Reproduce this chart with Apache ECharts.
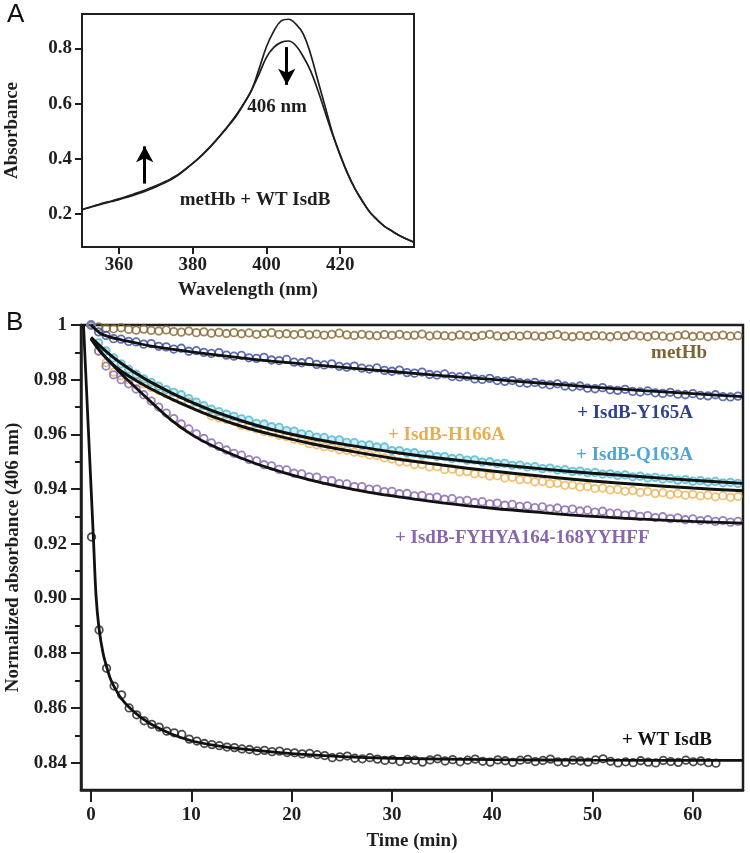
<!DOCTYPE html>
<html><head><meta charset="utf-8">
<script src="https://cdn.jsdelivr.net/npm/echarts@6/dist/echarts.min.js"></script>
<style>html,body{margin:0;padding:0;background:#fff}#c{width:750px;height:853px}</style>
</head><body><div id="c"></div><script>
// ---------- Panel A: spectra ----------
const wavelength = [350,352,354,356,358,360,362,364,366,368,370,372,374,376,378,380,382,384,386,388,390,392,394,396,398,400,402,404,406,408,410,412,414,416,418,420,422,424,426,428,430,432,434,436,438,440];
const specMetHb = [.215,.223,.231,.238,.245,.252,.260,.268,.277,.287,.298,.310,.324,.340,.361,.383,.407,.433,.462,.493,.526,.562,.603,.650,.726,.806,.863,.900,.906,.888,.852,.778,.681,.585,.489,.414,.347,.292,.247,.207,.179,.155,.138,.122,.109,.097];
const specWithIsdB = [.216,.224,.232,.240,.247,.255,.263,.272,.281,.291,.302,.314,.327,.342,.362,.383,.406,.432,.461,.492,.524,.559,.602,.650,.707,.768,.804,.822,.827,.810,.770,.718,.646,.565,.485,.412,.346,.291,.246,.207,.179,.155,.138,.122,.109,.097];
const specXTicks = [360,380,400,420];
const specYTicks = [0.2,0.4,0.6,0.8];
const arrowUp = [[367,0.31],[367,0.445]];
const arrowDown = [[405.5,0.805],[405.5,0.668]];

// ---------- Panel B: kinetics ----------
const timeData = [0,0.75,1.5,2.25,3,3.75,4.5,5.25,6,6.75,
7.5,8.25,9,9.75,10.5,11.25,12,12.75,13.5,14.25,
15,15.75,16.5,17.25,18,18.75,19.5,20.25,21,21.75,
22.5,23.25,24,24.75,25.5,26.25,27,27.75,28.5,29.25,
30,30.75,31.5,32.25,33,33.75,34.5,35.25,36,36.75,
37.5,38.25,39,39.75,40.5,41.25,42,42.75,43.5,44.25,
45,45.75,46.5,47.25,48,48.75,49.5,50.25,51,51.75,
52.5,53.25,54,54.75,55.5,56.25,57,57.75,58.5,59.25,
60,60.75,61.5,62.25,63,63.75,64.5];
const timeWT = [0.05,0.8,1.55,2.3,3.05,3.8,4.55,5.3,6.05,6.8,
7.55,8.3,9.05,9.8,10.55,11.3,12.05,12.8,13.55,14.3,
15.05,15.8,16.55,17.3,18.05,18.8,19.55,20.3,21.05,21.8,
22.55,23.3,24.05,24.8,25.55,26.3,27.05,27.8,28.55,29.3,
30.05,30.8,31.55,32.3,33.05,33.8,34.55,35.3,36.05,36.8,
37.55,38.3,39.05,39.8,40.55,41.3,42.05,42.8,43.55,44.3,
45.05,45.8,46.55,47.3,48.05,48.8,49.55,50.3,51.05,51.8,
52.55,53.3,54.05,54.8,55.55,56.3,57.05,57.8,58.55,59.3,
60.05,60.8,61.55,62.3];
const metHb = [1.0000,.9993,.9988,.9986,.9990,.9984,.9981,.9985,.9980,.9978,
.9982,.9976,.9974,.9978,.9972,.9975,.9970,.9973,.9969,.9972,
.9968,.9971,.9966,.9969,.9972,.9966,.9968,.9965,.9969,.9964,
.9967,.9963,.9966,.9970,.9964,.9962,.9966,.9963,.9961,.9965,
.9962,.9966,.9961,.9963,.9967,.9960,.9963,.9961,.9959,.9964,
.9961,.9958,.9962,.9966,.9960,.9958,.9962,.9959,.9963,.9960,
.9958,.9962,.9965,.9959,.9957,.9961,.9958,.9962,.9960,.9957,
.9961,.9958,.9963,.9960,.9957,.9962,.9959,.9956,.9961,.9964,
.9958,.9961,.9957,.9960,.9963,.9959,.9961];
const y165a = [1.0000,.9975,.9962,.9950,.9948,.9940,.9938,.9930,.9932,.9922,
.9920,.9912,.9915,.9904,.9906,.9900,.9896,.9899,.9890,.9886,
.9889,.9880,.9878,.9882,.9872,.9870,.9874,.9864,.9862,.9866,
.9856,.9854,.9858,.9849,.9846,.9850,.9842,.9839,.9843,.9834,
.9831,.9835,.9826,.9824,.9828,.9819,.9817,.9821,.9812,.9810,
.9812,.9803,.9801,.9805,.9797,.9794,.9797,.9789,.9787,.9790,
.9784,.9781,.9785,.9777,.9774,.9777,.9769,.9767,.9771,.9763,
.9761,.9765,.9757,.9755,.9759,.9752,.9750,.9754,.9747,.9745,
.9749,.9743,.9741,.9745,.9738,.9737,.9740];
const h166a = [1.0000,.9905,.9862,.9828,.9815,.9800,.9792,.9785,.9772,.9760,
.9748,.9735,.9725,.9718,.9702,.9690,.9668,.9660,.9655,.9648,
.9633,.9628,.9620,.9611,.9606,.9597,.9592,.9582,.9577,.9566,
.9562,.9555,.9552,.9544,.9542,.9535,.9532,.9525,.9523,.9514,
.9510,.9500,.9499,.9490,.9490,.9481,.9482,.9472,.9473,.9463,
.9464,.9456,.9456,.9448,.9449,.9441,.9443,.9434,.9435,.9427,
.9428,.9420,.9422,.9414,.9415,.9408,.9410,.9402,.9404,.9397,
.9399,.9392,.9395,.9388,.9391,.9384,.9387,.9380,.9384,.9378,
.9381,.9375,.9378,.9372,.9376,.9370,.9373];
const q163a = [1.0000,.9935,.9905,.9880,.9858,.9838,.9820,.9803,.9790,.9776,
.9764,.9754,.9745,.9731,.9718,.9705,.9692,.9683,.9674,.9666,
.9657,.9652,.9640,.9638,.9628,.9626,.9614,.9612,.9602,.9599,
.9590,.9589,.9580,.9580,.9571,.9570,.9562,.9562,.9554,.9554,
.9541,.9541,.9533,.9533,.9525,.9526,.9519,.9519,.9512,.9513,
.9506,.9507,.9499,.9500,.9493,.9494,.9487,.9488,.9481,.9482,
.9475,.9477,.9470,.9471,.9465,.9466,.9460,.9461,.9455,.9456,
.9450,.9452,.9445,.9447,.9441,.9443,.9437,.9439,.9433,.9435,
.9429,.9431,.9426,.9428,.9423,.9425,.9421];
const fyhya = [1.0000,.9905,.9850,.9818,.9800,.9785,.9766,.9745,.9722,.9700,
.9678,.9658,.9638,.9620,.9602,.9585,.9569,.9556,.9543,.9531,
.9524,.9508,.9503,.9489,.9485,.9472,.9470,.9458,.9456,.9445,
.9444,.9432,.9431,.9420,.9419,.9409,.9409,.9400,.9400,.9391,
.9392,.9383,.9384,.9375,.9377,.9369,.9371,.9363,.9365,.9357,
.9359,.9351,.9354,.9346,.9349,.9341,.9344,.9337,.9339,.9332,
.9335,.9328,.9331,.9324,.9327,.9320,.9323,.9316,.9319,.9312,
.9312,.9305,.9308,.9300,.9303,.9296,.9299,.9292,.9295,.9288,
.9291,.9285,.9288,.9282,.9285,.9279,.9282];
const wt = [.9225,.8885,.8745,.8680,.8648,.8600,.8575,.8553,.8540,.8530,
.8515,.8509,.8503,.8486,.8479,.8470,.8466,.8462,.8457,.8455,
.8450,.8448,.8443,.8445,.8440,.8442,.8437,.8436,.8432,.8434,
.8429,.8426,.8418,.8421,.8424,.8416,.8414,.8418,.8413,.8408,
.8411,.8404,.8412,.8409,.8402,.8410,.8414,.8406,.8411,.8403,
.8409,.8413,.8405,.8402,.8410,.8407,.8401,.8409,.8412,.8404,
.8408,.8413,.8403,.8401,.8409,.8406,.8402,.8410,.8414,.8405,
.8399,.8403,.8400,.8407,.8402,.8399,.8408,.8404,.8401,.8409,
.8403,.8406,.8400,.8398];
// fitted curves
const fitTime = [0,1,2,3,4,5,6,8,10,12,15,18,22,26,30,35,40,45,50,55,60,65];
const fitY165A = [1.0,.9968,.9955,.9946,.9938,.9930,.9923,.9912,.9902,.9893,.9880,.9868,.9855,.9842,.9830,.9815,.9801,.9787,.9773,.9760,.9749,.9738];
const fitQ163A = [.9955,.9920,.9888,.9860,.9835,.9812,.9790,.9752,.9718,.9688,.9650,.9618,.9585,.9559,.9536,.9512,.9492,.9474,.9458,.9445,.9432,.9421];
const fitH166A = [.9950,.9900,.9862,.9832,.9808,.9786,.9766,.9730,.9697,.9667,.9630,.9600,.9566,.9538,.9513,.9488,.9466,.9447,.9430,.9416,.9404,.9394];
const fitFYHYA = [.9950,.9900,.9860,.9822,.9787,.9752,.9718,.9652,.9600,.9560,.9513,.9474,.9432,.9400,.9375,.9350,.9330,.9314,.9300,.9290,.9282,.9276];
const fitTimeWT = [-0.75,0.25,0.5,0.8,1.2,1.6,2,2.5,3,4,5,6,8,10,12,15,20,25,30,40,50,65];
const fitWT = [1.0,.921,.901,.889,.880,.8745,.870,.8665,.8635,.8595,.8565,.854,.8505,.848,.8465,.845,.8433,.8422,.8416,.8411,.8409,.8408];
const kinXTicks = [0,10,20,30,40,50,60];
const kinYTicks = [0.84,0.86,0.88,0.90,0.92,0.94,0.96,0.98,1.0];
const kinYMinor = [0.85,0.87,0.89,0.91,0.93,0.95,0.97,0.99];

const zip = (xs, ys) => xs.map((x, i) => [x, ys[i]]);
const SERIF = '"Liberation Serif","DejaVu Serif",serif';
const INK = '#1e1e1e';
const lbl = { fontFamily: SERIF, fontWeight: 'bold', fontSize: 19, color: INK };

const chart = echarts.init(document.getElementById('c'), null, { renderer: 'canvas' });

function scatterS(name, xs, ys, color, fill) {
  return { name, type: 'scatter', xAxisIndex: 1, yAxisIndex: 1, data: zip(xs, ys),
    symbol: 'circle', symbolSize: 7.5, z: 3,
    itemStyle: { color: fill || 'rgba(255,255,255,0)', borderColor: color, borderWidth: 1.8 } };
}
function fitS(name, xs, ys, width) {
  return { name, type: 'line', xAxisIndex: 1, yAxisIndex: 1, data: zip(xs, ys),
    smooth: 0.35, showSymbol: false, z: 5,
    lineStyle: { color: '#111', width: width } };
}

const option = {
  animation: false,
  backgroundColor: '#fff',
  grid: [
    { left: 82, right: 336, top: 14, height: 233, containLabel: false, outerBoundsMode: 'none',
      show: true, borderColor: INK, borderWidth: 2, backgroundColor: 'transparent' },
    { left: 81, right: 7, top: 325, height: 465, containLabel: false, outerBoundsMode: 'none',
      show: true, borderColor: INK, borderWidth: 2.5, backgroundColor: 'transparent' }
  ],
  xAxis: [
    { type: 'value', gridIndex: 0, min: 350, max: 440,
      name: 'Wavelength (nm)', nameLocation: 'middle', nameGap: 34, nameTextStyle: lbl,
      axisLine: { show: true, onZero: false, lineStyle: { color: INK, width: 2 } },
      axisTick: { show: true, inside: false, length: 7, customValues: specXTicks, lineStyle: { color: INK, width: 2 } },
      axisLabel: { show: true, margin: 9, customValues: specXTicks, ...lbl },
      splitLine: { show: false } },
    { type: 'value', gridIndex: 1, min: -1, max: 65,
      name: 'Time (min)', nameLocation: 'middle', nameGap: 42, nameTextStyle: lbl,
      axisLine: { show: true, onZero: false, lineStyle: { color: INK, width: 2.5 } },
      axisTick: { show: true, inside: false, length: 12, customValues: kinXTicks, lineStyle: { color: INK, width: 2 } },
      axisLabel: { show: true, margin: 16, customValues: kinXTicks, ...lbl },
      splitLine: { show: false } }
  ],
  yAxis: [
    { type: 'value', gridIndex: 0, min: 0.08, max: 0.925,
      name: 'Absorbance', nameLocation: 'middle', nameGap: 60, nameRotate: 90, nameTextStyle: lbl,
      axisLine: { show: true, onZero: false, lineStyle: { color: INK, width: 2 } },
      axisTick: { show: true, inside: false, length: 7, customValues: specYTicks, lineStyle: { color: INK, width: 2 } },
      axisLabel: { show: true, margin: 10, customValues: specYTicks, formatter: v => v.toFixed(1), ...lbl },
      splitLine: { show: false } },
    { type: 'value', gridIndex: 1, min: 0.83, max: 1.0,
      name: 'Normalized absorbance (406 nm)', nameLocation: 'middle', nameGap: 58, nameRotate: 90, nameTextStyle: lbl,
      axisLine: { show: true, onZero: false, lineStyle: { color: INK, width: 2.5 } },
      axisTick: { show: true, inside: false, length: 10, customValues: kinYTicks, lineStyle: { color: INK, width: 2 } },
      axisLabel: { show: true, margin: 14, customValues: kinYTicks,
        formatter: v => (Math.abs(v - 1) < 1e-9 ? '1' : v.toFixed(2)), ...lbl },
      splitLine: { show: false } },
    { type: 'value', gridIndex: 1, min: 0.83, max: 1.0, position: 'left',
      axisLine: { show: false, onZero: false },
      axisTick: { show: true, inside: false, length: 6, customValues: kinYMinor, lineStyle: { color: INK, width: 2 } },
      axisLabel: { show: false }, splitLine: { show: false } }
  ],
  series: [
    { name: 'metHb spectrum', type: 'line', xAxisIndex: 0, yAxisIndex: 0, data: zip(wavelength, specMetHb),
      smooth: 0.4, showSymbol: false, lineStyle: { color: INK, width: 1.7 } },
    { name: 'metHb + WT IsdB spectrum', type: 'line', xAxisIndex: 0, yAxisIndex: 0, data: zip(wavelength, specWithIsdB),
      smooth: 0.4, showSymbol: false, lineStyle: { color: INK, width: 1.7 },
      markLine: { silent: true, symbol: ['none', 'arrow'], symbolSize: [13, 16],
        lineStyle: { color: '#000', width: 3, type: 'solid' }, label: { show: false },
        emphasis: { disabled: true },
        data: [ [ { coord: arrowUp[0] }, { coord: arrowUp[1] } ],
                [ { coord: arrowDown[0] }, { coord: arrowDown[1] } ] ] } },
    scatterS('metHb', timeData, metHb, '#86662f'),
    scatterS('+ IsdB-Y165A', timeData, y165a, '#34489c'),
    scatterS('+ IsdB-H166A', timeData, h166a, '#ebb352'),
    scatterS('+ IsdB-Q163A', timeData, q163a, '#4fb6cf', 'rgba(90,190,210,0.35)'),
    scatterS('+ IsdB-FYHYA164-168YYHFF', timeData, fyhya, '#8564ae'),
    scatterS('+ WT IsdB', timeWT, wt, '#1e1e1e'),
    fitS('fit Y165A', fitTime, fitY165A, 2.8),
    fitS('fit Q163A', fitTime, fitQ163A, 3),
    fitS('fit H166A', fitTime, fitH166A, 3),
    fitS('fit FYHYA', fitTime, fitFYHYA, 2.8),
    fitS('fit WT', fitTimeWT, fitWT, 2.8)
  ],
  graphic: [
    { type: 'text', left: 7, top: 2, style: { text: 'A', font: '26px "Liberation Sans", sans-serif', fill: '#111' } },
    { type: 'text', left: 6, top: 310, style: { text: 'B', font: '26px "Liberation Sans", sans-serif', fill: '#111' } },
    { type: 'text', x: 277, y: 107, style: { text: '406 nm', font: 'bold 19px ' + SERIF, fill: INK, align: 'center', verticalAlign: 'middle' } },
    { type: 'text', x: 255, y: 200, style: { text: 'metHb + WT IsdB', font: 'bold 19px ' + SERIF, fill: INK, align: 'center', verticalAlign: 'middle' } },
    { type: 'text', x: 707, y: 353, style: { text: 'metHb', font: 'bold 19px ' + SERIF, fill: '#7d6236', align: 'right', verticalAlign: 'middle' } },
    { type: 'text', x: 693, y: 413, style: { text: '+ IsdB-Y165A', font: 'bold 19px ' + SERIF, fill: '#2f4190', align: 'right', verticalAlign: 'middle' } },
    { type: 'text', x: 388, y: 435, style: { text: '+ IsdB-H166A', font: 'bold 19px ' + SERIF, fill: '#e9ae4c', align: 'left', verticalAlign: 'middle' } },
    { type: 'text', x: 693, y: 455, style: { text: '+ IsdB-Q163A', font: 'bold 19px ' + SERIF, fill: '#4ea6d2', align: 'right', verticalAlign: 'middle' } },
    { type: 'text', x: 395, y: 538, style: { text: '+ IsdB-FYHYA164-168YYHFF', font: 'bold 19px ' + SERIF, fill: '#8866ae', align: 'left', verticalAlign: 'middle' } },
    { type: 'text', x: 712, y: 740, style: { text: '+ WT IsdB', font: 'bold 19px ' + SERIF, fill: '#111', align: 'right', verticalAlign: 'middle' } }
  ]
};
chart.setOption(option);
</script></body></html>
